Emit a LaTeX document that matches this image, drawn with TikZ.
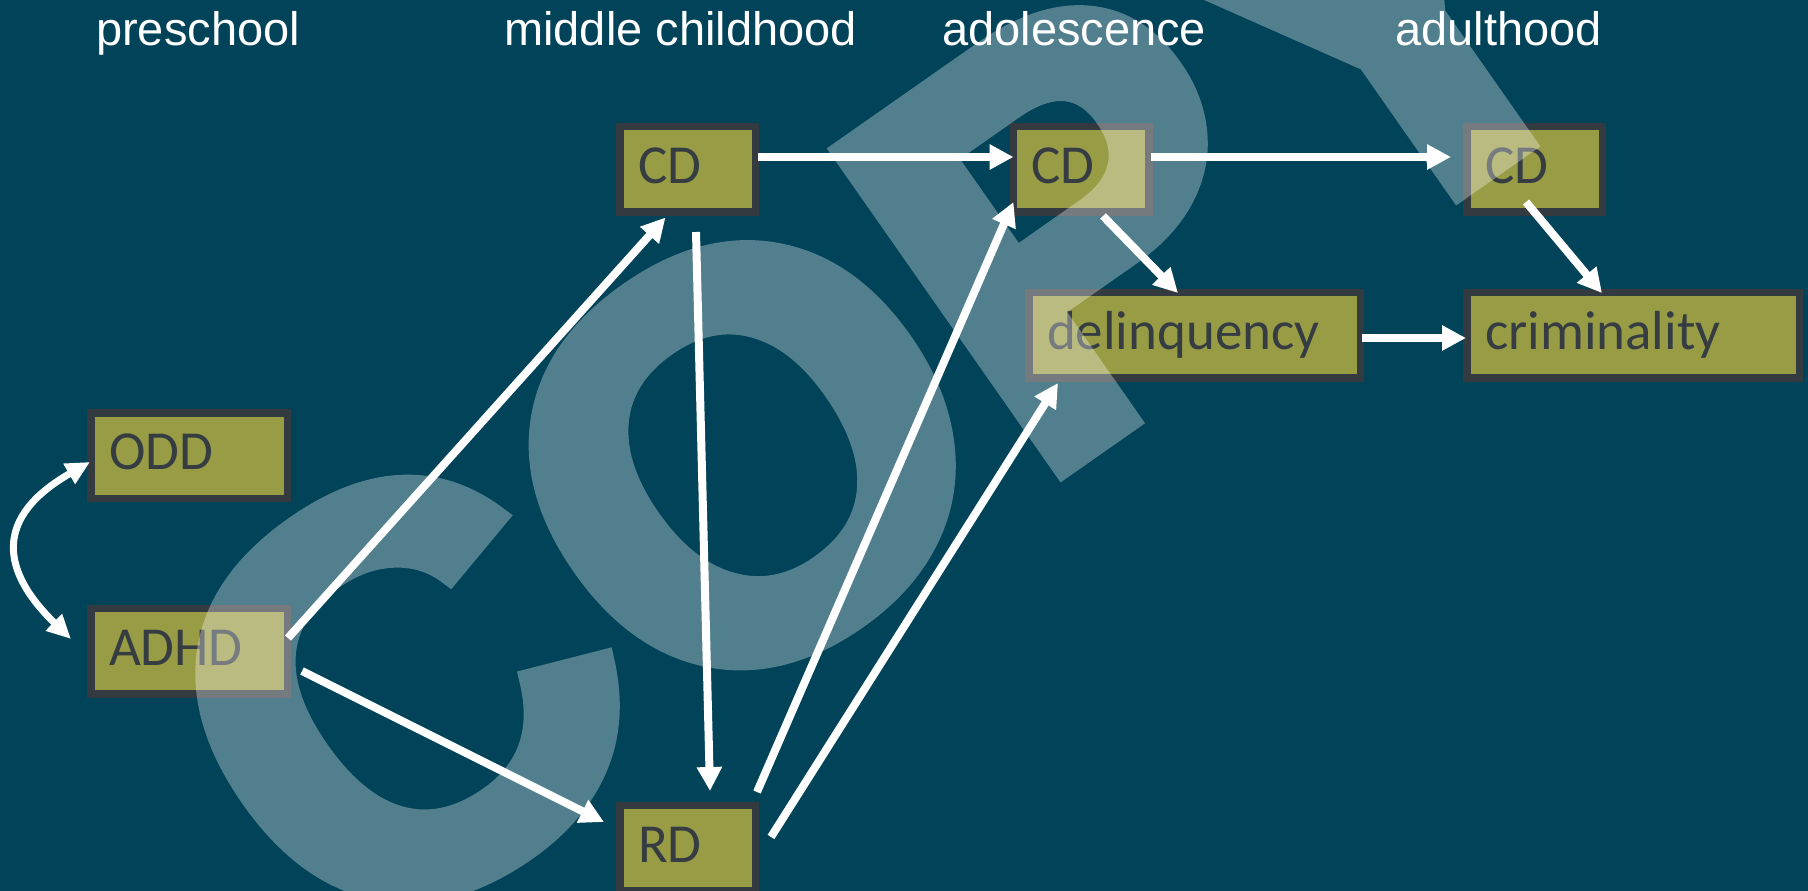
\documentclass[tikz,border=0pt]{standalone}
\usepackage{fontspec}
\setmainfont{Liberation Sans}
\newfontfamily\boxfont{Carlito}
\newfontfamily\wmfont[FakeBold=4]{Liberation Sans Bold}
\usetikzlibrary{arrows.meta,calc}
\definecolor{bg}{RGB}{1,67,89}
\definecolor{olive}{RGB}{152,156,69}
\definecolor{edge}{RGB}{51,59,64}
\definecolor{ink}{RGB}{53,61,66}
\begin{document}
\begin{tikzpicture}[x=1pt,y=-1pt,
  box/.style={draw=edge, line width=7.5pt, fill=olive, minimum height=85.5pt,
    inner xsep=18.25pt, inner ysep=0pt, font=\boxfont\fontsize{55}{60}\selectfont,
    text=ink, text height=38pt, text depth=10pt, align=left},
  hdr/.style={anchor=base west, text=white, font=\fontsize{47}{52}\selectfont, inner sep=0pt},
  arr/.style={draw=white, line width=8pt, -{Triangle[length=24pt,width=24pt]}},
  darr/.style={draw=white, line width=7pt, {Triangle[length=24pt,width=22pt]}-{Triangle[length=24pt,width=22pt]}},
]
\useasboundingbox (0,0) rectangle (1808,891);
\fill[bg] (0,0) rectangle (1808,891);

% headers
\node[hdr] (h1) at (96,46) {preschool};
\node[hdr] (h2) at (504,46) {middle childhood};
\node[hdr] (h3) at (942,46) {adolescence};
\node[hdr] (h4) at (1395,46) {adulthood};

% boxes
\node[box, minimum width=196.5pt, text width=160pt] (odd) at (189,455.5) {ODD};
\node[box, minimum width=196.5pt, text width=160pt] (adhd) at (189,651) {ADHD};
\node[box, minimum width=135.5pt, text width=99pt] (cdm) at (687.5,169) {CD};
\node[box, minimum width=135.5pt, text width=99pt] (cda) at (1081,169) {CD};
\node[box, minimum width=135.5pt, text width=99pt] (cdu) at (1534.5,169) {CD};
\node[box, minimum width=331.5pt, text width=295pt] (del) at (1194.5,335) {delinquency};
\node[box, minimum width=332.5pt, text width=296pt] (crim) at (1633,335) {criminality};
\node[box, minimum width=135.5pt, text width=99pt] (rd) at (687.5,848) {RD};

% connectors
\draw[darr] ($(odd.west)+(3,6.5)$) .. controls ($(odd.west)+(-94,62)$) and ($(adhd.west)+(-86,-80)$) .. ($(adhd.west)+(-16,-12)$);
\draw[arr] ($(adhd.east)+(-3,-13)$) -- ($(cdm.south)+(-22,2)$);
\draw[arr] ($(adhd.east)+(11,20)$) -- ($(rd.west)+(-12,-26)$);
\draw[arr] ($(cdm.east)+(-1,-12)$) -- ($(cda.west)+(4,-12)$);
\draw[arr] ($(cdm.south)+(8.5,16.5)$) -- ($(rd.north)+(22.5,-10.5)$);
\draw[arr] ($(rd.north east)+(-2,-9.5)$) -- ($(cda.south west)+(4,-13.5)$);
\draw[arr] ($(rd.east)+(12,-11)$) -- ($(del.south west)+(33,1.5)$);
\draw[arr] ($(cda.south)+(22,0.5)$) -- ($(del.north)+(-16.5,4.5)$);
\draw[arr] ($(cda.east)+(-2,-12)$) -- ($(cdu.west)+(-12,-12)$);
\draw[arr] ($(cdu.south)+(-8.5,-13.5)$) -- ($(crim.north)+(-31,4.5)$);
\draw[arr] ($(del.east)+(-2,3)$) -- ($(crim.west)+(3,3)$);

% watermark
\begin{scope}[transparency group, opacity=0.32]
\node[text=white, font=\wmfont\fontsize{560}{600}\selectfont, rotate=35, inner sep=0pt] (wm) at (884,357) {COPY};
\end{scope}
\end{tikzpicture}
\end{document}
